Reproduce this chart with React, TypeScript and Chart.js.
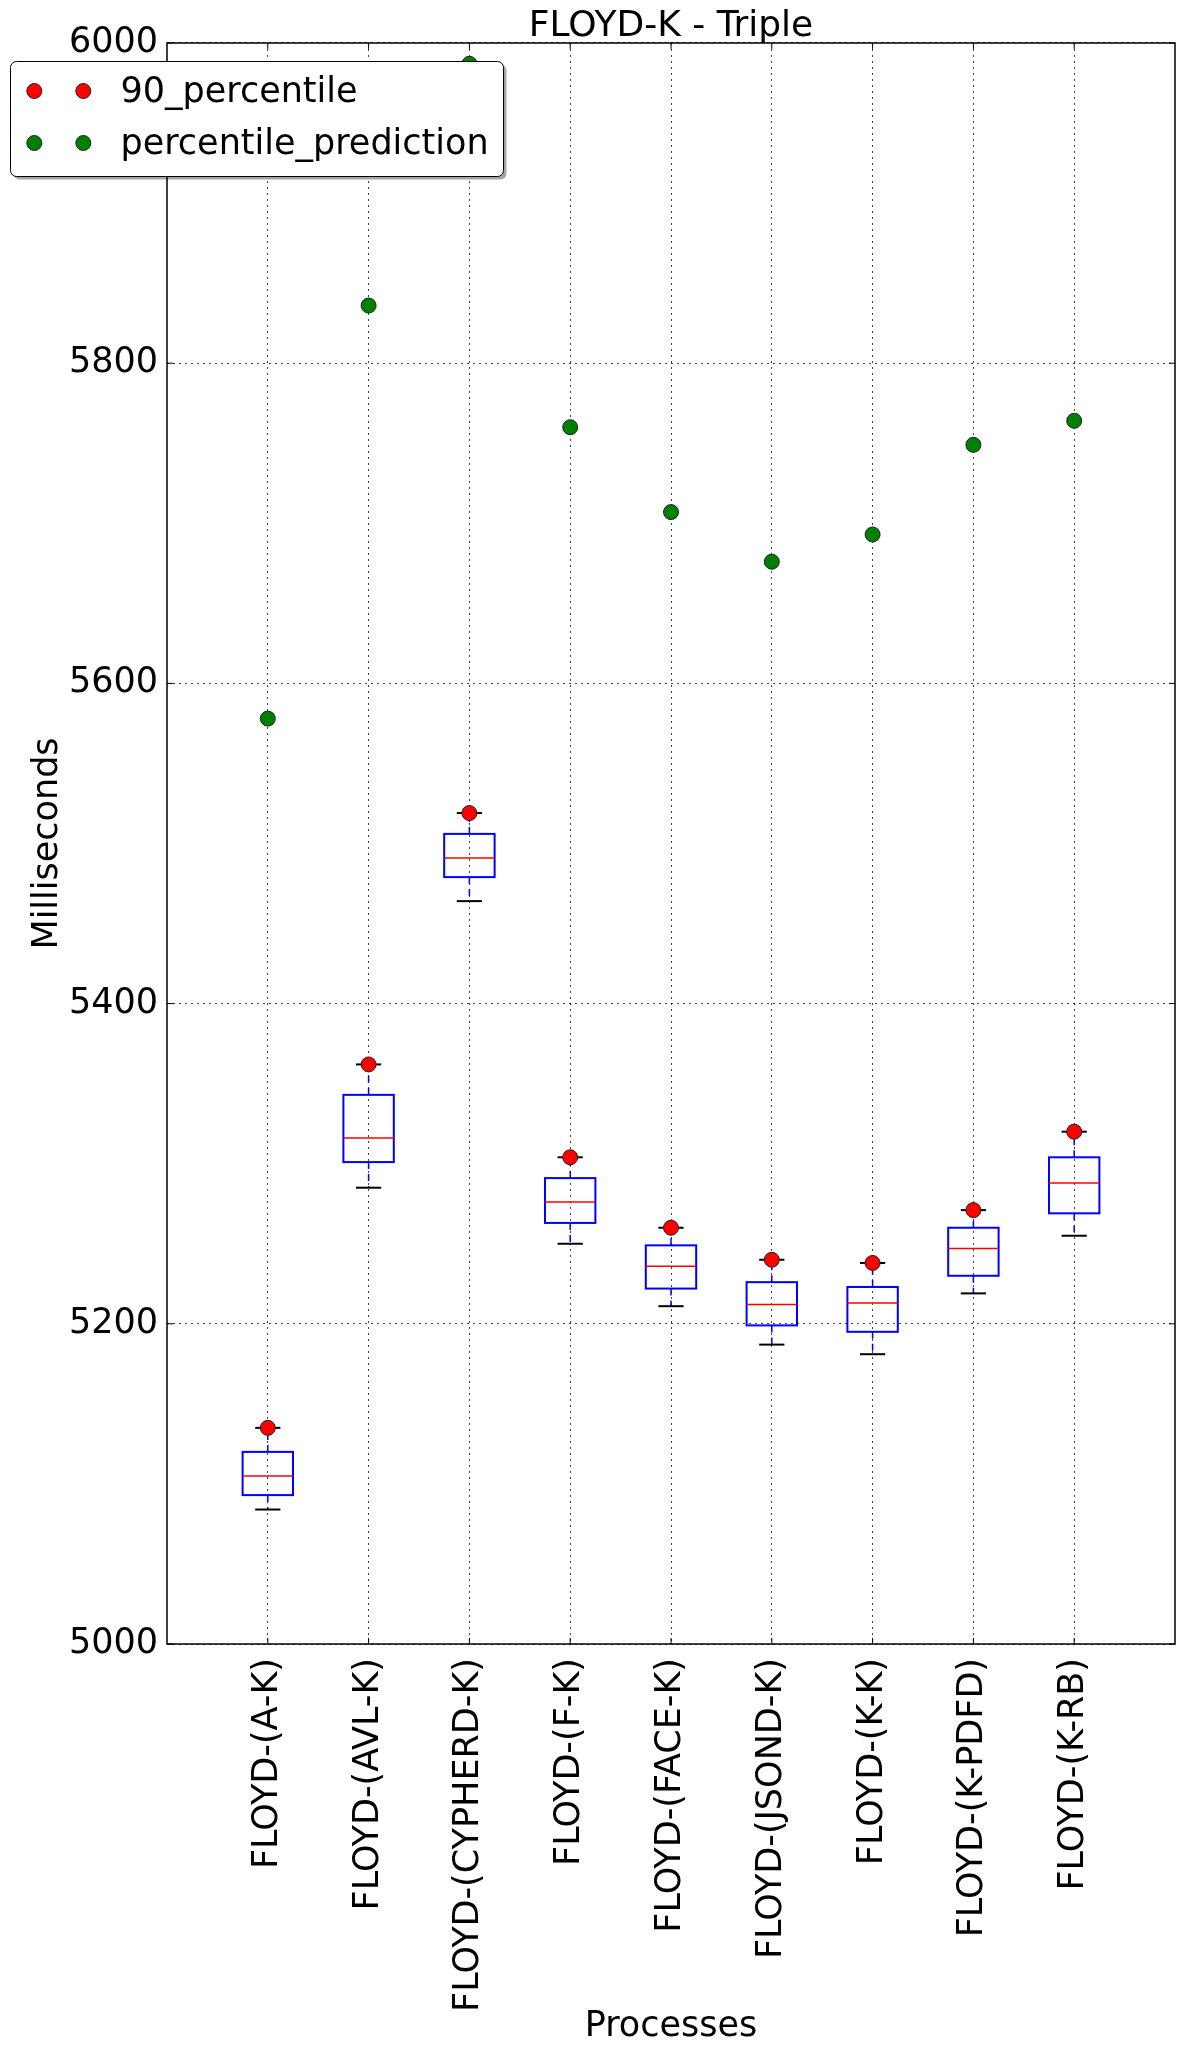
import React, { useEffect, useRef } from 'react';
import { Chart, registerables } from 'chart.js';

Chart.register(...registerables);

const categories = [
  'FLOYD-(A-K)',
  'FLOYD-(AVL-K)',
  'FLOYD-(CYPHERD-K)',
  'FLOYD-(F-K)',
  'FLOYD-(FACE-K)',
  'FLOYD-(JSOND-K)',
  'FLOYD-(K-K)',
  'FLOYD-(K-PDFD)',
  'FLOYD-(K-RB)',
];

const whiskerLow = [5084, 5285, 5464, 5250, 5211, 5187, 5181, 5219, 5255];
const q1 = [5093, 5301, 5479, 5263, 5222, 5199, 5195, 5230, 5269];
const median = [5105, 5316, 5491, 5276, 5236, 5212, 5213, 5247, 5288];
const q3 = [5120, 5343, 5506, 5291, 5249, 5226, 5223, 5260, 5304];
const whiskerHigh = [5135, 5362, 5519, 5304, 5260, 5240, 5238, 5271, 5320];

const percentile90 = [5135, 5362, 5519, 5304, 5260, 5240, 5238, 5271, 5320];
const percentilePrediction = [5578, 5836, 5987, 5760, 5707, 5676, 5693, 5749, 5764];

const yTickValues = [5000, 5200, 5400, 5600, 5800, 6000];

const FONT = "'DejaVu Sans', sans-serif";
const RED = '#ff0000';
const GREEN = '#008000';
const BLUE = '#0000ff';

export default function App() {
  const ref = useRef<HTMLCanvasElement>(null);

  useEffect(() => {
    const canvas = ref.current;
    if (!canvas) return;

    const line = (ctx: CanvasRenderingContext2D, x1: number, y1: number, x2: number, y2: number) => {
      ctx.beginPath();
      ctx.moveTo(x1, y1);
      ctx.lineTo(x2, y2);
      ctx.stroke();
    };

    const boxPlugin = {
      id: 'boxes',
      beforeDatasetsDraw(chart: any) {
        const { ctx, scales } = chart;
        const x = scales.x;
        const y = scales.y;
        const unit = x.getPixelForValue(1) - x.getPixelForValue(0);
        const halfBox = unit * 0.25;
        const halfCap = unit * 0.125;
        ctx.save();
        categories.forEach((_, i) => {
          const cx = x.getPixelForValue(i + 1);
          const yLow = y.getPixelForValue(whiskerLow[i]);
          const yQ1 = y.getPixelForValue(q1[i]);
          const yMed = y.getPixelForValue(median[i]);
          const yQ3 = y.getPixelForValue(q3[i]);
          const yHigh = y.getPixelForValue(whiskerHigh[i]);
          ctx.strokeStyle = BLUE;
          ctx.lineWidth = 1.5;
          ctx.setLineDash([7, 5]);
          line(ctx, cx, yQ1, cx, yLow);
          line(ctx, cx, yQ3, cx, yHigh);
          ctx.setLineDash([]);
          ctx.strokeStyle = '#000';
          ctx.lineWidth = 2;
          line(ctx, cx - halfCap, yLow, cx + halfCap, yLow);
          line(ctx, cx - halfCap, yHigh, cx + halfCap, yHigh);
          ctx.strokeStyle = BLUE;
          ctx.lineWidth = 2;
          ctx.strokeRect(cx - halfBox, yQ3, halfBox * 2, yQ1 - yQ3);
          ctx.strokeStyle = RED;
          ctx.lineWidth = 1.5;
          line(ctx, cx - halfBox, yMed, cx + halfBox, yMed);
        });
        ctx.restore();
      },
    };

    const framePlugin = {
      id: 'frame',
      afterDatasetsDraw(chart: any) {
        const { ctx, chartArea, scales } = chart;
        const { left, right, top, bottom } = chartArea;
        ctx.save();
        ctx.strokeStyle = '#000';
        ctx.lineWidth = 1.5;
        ctx.strokeRect(left, top, right - left, bottom - top);
        ctx.lineWidth = 1;
        const tl = 6;
        scales.x.ticks.forEach((t: any) => {
          const px = scales.x.getPixelForValue(t.value);
          line(ctx, px, bottom, px, bottom - tl);
          line(ctx, px, top, px, top + tl);
        });
        scales.y.ticks.forEach((t: any) => {
          const py = scales.y.getPixelForValue(t.value);
          line(ctx, left, py, left + tl, py);
          line(ctx, right, py, right - tl, py);
        });
        ctx.restore();
      },
    };

    const legendPlugin = {
      id: 'customLegend',
      afterDraw(chart: any) {
        const { ctx } = chart;
        const x0 = 10.5;
        const y0 = 61.5;
        const w = 493;
        const h = 115;
        const r = 6;
        const rr = (x: number, y: number) => {
          ctx.beginPath();
          ctx.moveTo(x + r, y);
          ctx.lineTo(x + w - r, y);
          ctx.arcTo(x + w, y, x + w, y + r, r);
          ctx.lineTo(x + w, y + h - r);
          ctx.arcTo(x + w, y + h, x + w - r, y + h, r);
          ctx.lineTo(x + r, y + h);
          ctx.arcTo(x, y + h, x, y + h - r, r);
          ctx.lineTo(x, y + r);
          ctx.arcTo(x, y, x + r, y, r);
          ctx.closePath();
        };
        ctx.save();
        ctx.fillStyle = 'rgba(0,0,0,0.35)';
        rr(x0 + 3, y0 + 3);
        ctx.fill();
        ctx.fillStyle = '#fff';
        rr(x0, y0);
        ctx.fill();
        ctx.strokeStyle = '#000';
        ctx.lineWidth = 1;
        ctx.stroke();
        const rows = [91, 143];
        chart.data.datasets.forEach((ds: any, i: number) => {
          const yy = rows[i];
          [34.3, 83.3].forEach((mx) => {
            ctx.beginPath();
            ctx.arc(mx, yy, 7.5, 0, Math.PI * 2);
            ctx.fillStyle = ds.backgroundColor;
            ctx.fill();
            ctx.strokeStyle = '#222';
            ctx.lineWidth = 1;
            ctx.stroke();
          });
          ctx.fillStyle = '#000';
          ctx.font = `35px ${FONT}`;
          ctx.textBaseline = 'middle';
          ctx.textAlign = 'left';
          ctx.fillText(ds.label, 120.5, yy + 2);
        });
        ctx.restore();
      },
    };

    const tickFont = { family: FONT, size: 35, weight: 'normal' as const };

    const chart = new Chart(canvas, {
      type: 'scatter',
      data: {
        datasets: [
          {
            label: '90_percentile',
            data: percentile90.map((v, i) => ({ x: i + 1, y: v })),
            backgroundColor: RED,
            borderColor: '#222',
            borderWidth: 1,
            pointRadius: 7.5,
            pointHoverRadius: 7.5,
          },
          {
            label: 'percentile_prediction',
            data: percentilePrediction.map((v, i) => ({ x: i + 1, y: v })),
            backgroundColor: GREEN,
            borderColor: '#222',
            borderWidth: 1,
            pointRadius: 7.5,
            pointHoverRadius: 7.5,
          },
        ],
      },
      options: {
        responsive: false,
        animation: false,
        events: [],
        layout: { padding: { top: 0, left: 0, right: 9, bottom: 0 } },
        plugins: {
          legend: { display: false },
          tooltip: { enabled: false },
          title: {
            display: true,
            text: 'FLOYD-K - Triple',
            fullSize: false,
            color: '#000',
            font: { family: FONT, size: 36, weight: 'normal', lineHeight: 0.88 },
            padding: { top: 10.5, bottom: 0.8 },
          },
        },
        scales: {
          x: {
            type: 'linear',
            min: 0,
            max: 10,
            afterBuildTicks: (s: any) => {
              s.ticks = categories.map((_, i) => ({ value: i + 1 }));
            },
            afterFit: (s: any) => {
              s.height = 411;
            },
            ticks: {
              autoSkip: false,
              minRotation: 90,
              maxRotation: 90,
              padding: 14,
              color: '#000',
              font: tickFont,
              callback: (v: any) => categories[Math.round(Number(v)) - 1] ?? '',
            },
            grid: { color: 'rgba(0,0,0,0.75)', lineWidth: 1, drawTicks: false },
            border: { display: false, dash: [2, 4] },
            title: {
              display: true,
              text: 'Processes',
              color: '#000',
              font: tickFont,
              padding: { top: 0, bottom: 7 },
            },
          },
          y: {
            type: 'linear',
            min: 5000,
            max: 6000,
            afterBuildTicks: (s: any) => {
              s.ticks = yTickValues.map((v) => ({ value: v }));
            },
            afterFit: (s: any) => {
              s.width = 167;
            },
            ticks: {
              padding: 9,
              color: '#000',
              font: tickFont,
              callback: (v: any) => String(v),
            },
            grid: { color: 'rgba(0,0,0,0.75)', lineWidth: 1, drawTicks: false },
            border: { display: false, dash: [2, 4] },
            title: {
              display: true,
              text: 'Milliseconds',
              color: '#000',
              font: tickFont,
              padding: { top: 27, bottom: 0 },
            },
          },
        },
      },
      plugins: [boxPlugin, framePlugin, legendPlugin],
    });

    return () => {
      chart.destroy();
    };
  }, []);

  return (
    <div style={{ position: 'absolute', left: 0, top: 0, width: 1184, height: 2055, background: '#fff' }}>
      <canvas ref={ref} width={1184} height={2055} style={{ display: 'block' }} />
    </div>
  );
}
